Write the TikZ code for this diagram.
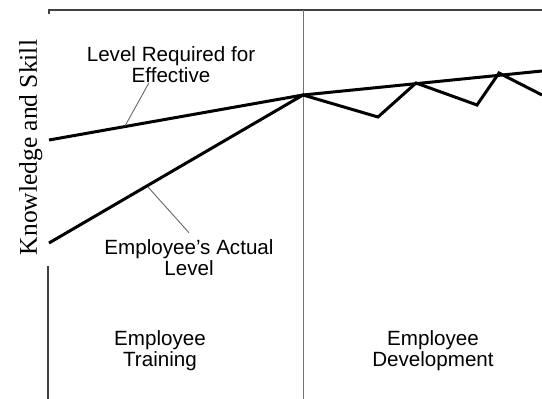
\documentclass[tikz,border=0pt]{standalone}
\usepackage{fontspec}
\setmainfont{Liberation Sans}
\newfontfamily\serifface{Liberation Serif}
\begin{document}
\begin{tikzpicture}[x=1pt,y=-1pt,
  frame/.style={draw=black!75,line width=1.1pt},
  divider/.style={draw=black!55,line width=1pt},
  level/.style={draw=black,line width=3pt,line join=miter},
  leader/.style={draw=black!60,line width=0.9pt},
  lbl/.style={inner sep=0pt,align=center,font=\fontsize{20.6}{21}\selectfont}]
\useasboundingbox (0,0) rectangle (542,399);
% frame
\coordinate (tl) at (49,13.5);
\coordinate (tt) at (49,10);
\coordinate (tr) at (542,10);
\coordinate (ab) at (48,266);
\coordinate (ae) at (48,399);
\coordinate (dt) at (303,10);
\coordinate (db) at (303,399);
\draw[frame] (tl) -- (tt) -- (tr);
\draw[frame] (ab) -- (ae);
\draw[divider] (dt) -- (db);
% y label
\node[rotate=90,anchor=base,inner sep=0pt,font=\serifface\fontsize{25.5}{26}\selectfont] (ylab) at (37,147.5) {Knowledge and Skill};
% curves
\coordinate (r0) at (49,140);
\coordinate (m) at (303,95);
\coordinate (r1) at (542,71);
\coordinate (a0) at (49,243);
\coordinate (z1) at (378,117);
\coordinate (z2) at (416,83);
\coordinate (z3) at (477,105);
\coordinate (z4) at (499,73);
\coordinate (z5) at (542,95);
\draw[level] (r0) -- (m) -- (r1);
\draw[level] (a0) -- (m) -- (z1) -- (z2) -- (z3) -- (z4) -- (z5);
% labels
\node[lbl] (req) at (171,64.5) {Level Required for\\Effective};
\node[lbl] (act) at (189,258) {Employee’s Actual\\Level};
\node[lbl] (trn) at (160,351) {Employee\\Training};
\node[lbl] (dev) at (433,351) {Employee\\Development};
% leaders
\coordinate (rq) at (125,126);
\coordinate (ac) at (148,187);
\draw[leader] ([xshift=-22pt]req.south) -- (rq);
\draw[leader] (ac) -- ([yshift=7pt]act.north);
\end{tikzpicture}
\end{document}
